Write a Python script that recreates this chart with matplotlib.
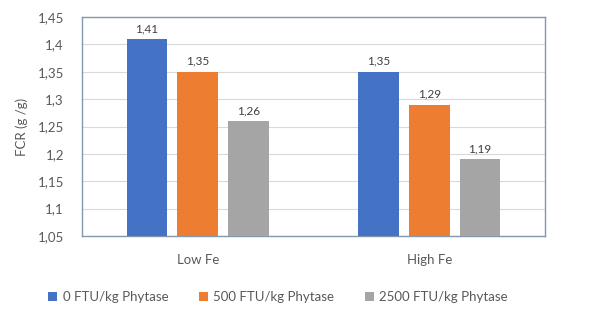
import numpy as np
import matplotlib.pyplot as plt
from matplotlib.ticker import MultipleLocator, FuncFormatter

# === DATA ===
groups = ["Low Fe", "High Fe"]
series = ["0 FTU/kg Phytase", "500 FTU/kg Phytase", "2500 FTU/kg Phytase"]
fcr_0 = [1.41, 1.35]
fcr_500 = [1.35, 1.29]
fcr_2500 = [1.26, 1.19]

colors = ["#4472C4", "#ED7D31", "#A5A5A5"]
text_col = "#595959"

plt.rcParams['font.family'] = ['Lato', 'DejaVu Sans']

fig = plt.figure(figsize=(6.0, 3.22), dpi=100)
ax = fig.add_axes([82 / 600, 1 - 236 / 322, 463 / 600, 219 / 322])

x = np.arange(len(groups))
bw = 0.175
step = 0.22
base = 1.05
for i, (vals, name) in enumerate(zip([fcr_0, fcr_500, fcr_2500], series)):
    pos = x + (i - 1) * step
    heights = np.array(vals) - base
    ax.bar(pos, heights, bw, bottom=base, color=colors[i], label=name, zorder=3)
    for p, v in zip(pos, vals):
        ax.text(p, v + 0.009, f"{v:.2f}".replace(".", ","), ha='center', va='bottom',
                fontsize=8.5, color="#404040")

ax.set_xlim(-0.5, 1.5)
ax.set_ylim(1.05, 1.45)
ax.yaxis.set_major_locator(MultipleLocator(0.05))
ax.yaxis.set_major_formatter(FuncFormatter(lambda v, _: f"{v:.2f}".rstrip('0').rstrip(',').replace('.', ',')))
ax.set_xticks(x)
ax.set_xticklabels(groups)
ax.tick_params(axis='both', length=0, colors=text_col, labelsize=9.5)
ax.tick_params(axis='x', pad=13)
ax.tick_params(axis='y', pad=13)
ax.grid(axis='y', color="#D9D9D9", lw=0.8, zorder=0)
for s in ax.spines.values():
    s.set_color("#8497B0")
    s.set_linewidth(1.0)

ax.set_ylabel("FCR (g /g)", color=text_col, fontsize=9.5, labelpad=7)

fig.legend(loc='center', bbox_to_anchor=(278 / 600, 1 - 297 / 322), ncol=3, frameon=False,
           fontsize=9.5, labelcolor=text_col, handlelength=0.7, handleheight=0.7,
           handletextpad=0.4, columnspacing=2.3)

fig.savefig("out.png", dpi=100)
